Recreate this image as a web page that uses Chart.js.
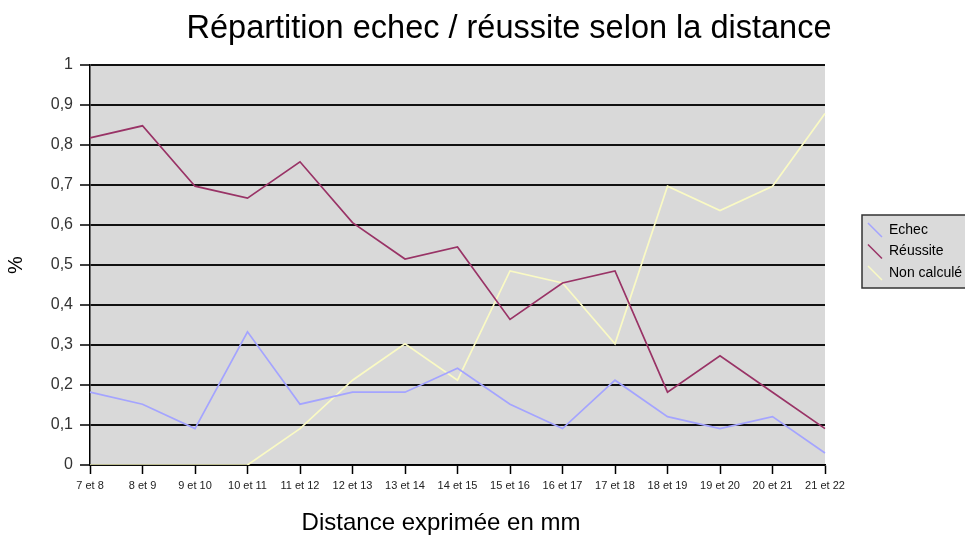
<!DOCTYPE html>
<html>
<head>
<meta charset="utf-8">
<title>Répartition echec / réussite selon la distance</title>
<script src="https://cdn.jsdelivr.net/npm/chart.js@4.4.1/dist/chart.umd.min.js"></script>
<style>
  html, body { margin: 0; padding: 0; background: #fff; }
  #wrap { width: 965px; height: 537px; }
</style>
</head>
<body>
<div id="wrap"><canvas id="distanceChart" width="965" height="537"></canvas></div>
<script>
// distance classes (mm)
const distances = ['7 et 8', '8 et 9', '9 et 10', '10 et 11', '11 et 12', '12 et 13', '13 et 14', '14 et 15',
  '15 et 16', '16 et 17', '17 et 18', '18 et 19', '19 et 20', '20 et 21', '21 et 22'];

// share of each outcome per class
const echec = [0.182, 0.152, 0.091, 0.333, 0.152, 0.182, 0.182, 0.242, 0.152, 0.091, 0.212, 0.121, 0.091, 0.121, 0.030];
const reussite = [0.818, 0.848, 0.697, 0.667, 0.758, 0.606, 0.515, 0.545, 0.364, 0.455, 0.485, 0.182, 0.273, 0.182, 0.091];
const nonCalcule = [0, 0, 0, 0, 0.091, 0.212, 0.303, 0.212, 0.485, 0.455, 0.303, 0.697, 0.636, 0.697, 0.879];

const chartTitle = 'Répartition echec / réussite selon la distance';
const xAxisTitle = 'Distance exprimée en mm';
const yAxisTitle = '%';

const FONT = '"Liberation Sans", Arial, sans-serif';

// grey plot area, title, axis caption and the boxed legend
const chartDecor = {
	id: 'chartDecor',
	beforeDraw(chart) {
		const {ctx, chartArea: a} = chart;
		ctx.save();
		ctx.fillStyle = '#d9d9d9';
		ctx.fillRect(a.left, a.top, a.right - a.left, a.bottom - a.top);
		ctx.restore();
	},
	afterDraw(chart) {
		const ctx = chart.ctx;
		ctx.save();
		ctx.fillStyle = '#000';
		ctx.textAlign = 'center';
		ctx.textBaseline = 'alphabetic';
		ctx.font = '32.5px ' + FONT;
		ctx.fillText(chartTitle, 509, 38);
		ctx.font = '24px ' + FONT;
		ctx.fillText(xAxisTitle, 441, 530);

		// legend box
		ctx.fillStyle = '#dadada';
		ctx.fillRect(862, 215, 110, 73);
		ctx.strokeStyle = '#333';
		ctx.lineWidth = 1.5;
		ctx.strokeRect(862, 215, 110, 73);

		ctx.font = '14px ' + FONT;
		ctx.textAlign = 'left';
		ctx.textBaseline = 'middle';
		chart.data.datasets.forEach((ds, i) => {
			const cy = 230 + i * 21.5;
			ctx.strokeStyle = ds.borderColor;
			ctx.lineWidth = 1.5;
			ctx.beginPath();
			ctx.moveTo(868, cy - 7);
			ctx.lineTo(882, cy + 7);
			ctx.stroke();
			ctx.fillStyle = '#000';
			ctx.fillText(ds.label, 889, cy);
		});
		ctx.restore();
	}
};

const lineStyle = {
	borderWidth: 1.7,
	pointRadius: 0,
	tension: 0,
	fill: false
};

new Chart(document.getElementById('distanceChart'), {
	type: 'line',
	data: {
		labels: distances,
		datasets: [
			{label: 'Echec', data: echec, borderColor: '#a4a4ff', ...lineStyle},
			{label: 'Réussite', data: reussite, borderColor: '#993366', ...lineStyle},
			{label: 'Non calculé', data: nonCalcule, borderColor: '#fafac4', ...lineStyle}
		]
	},
	options: {
		responsive: false,
		animation: false,
		layout: {
			padding: {top: 65, right: 140, left: 0, bottom: 0}
		},
		plugins: {
			legend: {display: false},
			title: {display: false},
			tooltip: {enabled: false}
		},
		scales: {
			x: {
				offset: false,
				afterFit: (scale) => { scale.height = 72; },
				grid: {
					drawOnChartArea: false,
					drawTicks: true,
					tickLength: 9,
					tickColor: '#000',
					tickWidth: 1.5
				},
				border: {color: '#000', width: 1.5},
				ticks: {
					autoSkip: false,
					maxRotation: 0,
					minRotation: 0,
					padding: 5,
					color: '#222',
					font: {family: FONT, size: 11}
				}
			},
			y: {
				min: 0,
				max: 1,
				afterFit: (scale) => { scale.width = 90; },
				grid: {
					color: '#111',
					lineWidth: 2,
					drawTicks: true,
					tickLength: 10,
					tickColor: '#000',
					tickWidth: 1.5
				},
				border: {color: '#000', width: 1.5},
				ticks: {
					stepSize: 0.1,
					padding: 7,
					color: '#333',
					font: {family: FONT, size: 16},
					callback: (v) => String(Math.round(v * 10) / 10).replace('.', ',')
				},
				title: {
					display: true,
					text: yAxisTitle,
					color: '#000',
					font: {family: FONT, size: 20},
					padding: {top: 4, bottom: 0}
				}
			}
		}
	},
	plugins: [chartDecor]
});
</script>
</body>
</html>
